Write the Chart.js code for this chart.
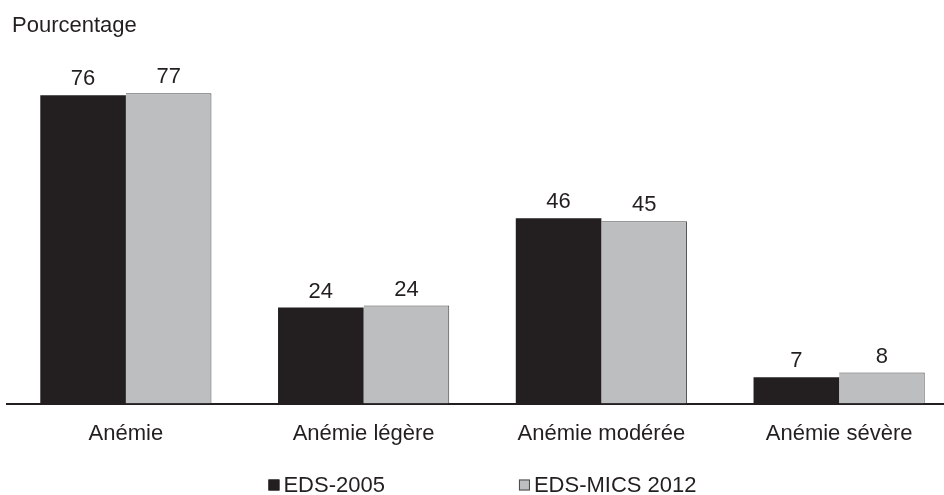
<!DOCTYPE html>
<html>
<head>
<meta charset="utf-8">
<script src="https://cdn.jsdelivr.net/npm/chart.js@4/dist/chart.umd.min.js"></script>
<style>
  html, body { margin: 0; padding: 0; background: #ffffff; overflow: hidden; }
  #wrap { position: relative; width: 960px; height: 495px; }
</style>
</head>
<body>
<div id="wrap"><canvas id="c"></canvas></div>
<script>
const categories = ["Anémie", "Anémie légère", "Anémie modérée", "Anémie sévère"];
const seriesNames = ["EDS-2005", "EDS-MICS 2012"];
const eds2005 = [76.4, 23.8, 45.9, 6.5];
const edsMics2012 = [76.9, 24.3, 45.2, 7.7];
const yAxisTitle = "Pourcentage";

const FONT = "'Liberation Sans', Arial, Helvetica, sans-serif";
const FSIZE = 22;
const INK = "#231f20";

const valueLabels = {
  id: "valueLabels",
  afterDatasetsDraw(chart) {
    const ctx = chart.ctx;
    ctx.save();
    ctx.font = FSIZE + "px " + FONT;
    ctx.fillStyle = INK;
    ctx.textAlign = "center";
    ctx.textBaseline = "alphabetic";
    chart.data.datasets.forEach((ds, i) => {
      const meta = chart.getDatasetMeta(i);
      meta.data.forEach((el, j) => {
        ctx.fillText(String(Math.round(ds.data[j])), el.x, el.y - 10);
      });
    });
    ctx.restore();
  }
};

const extras = {
  id: "extras",
  afterDraw(chart) {
    const ctx = chart.ctx;
    const area = chart.chartArea;
    ctx.save();
    ctx.font = FSIZE + "px " + FONT;
    ctx.fillStyle = INK;
    ctx.textAlign = "left";
    ctx.textBaseline = "alphabetic";
    ctx.fillText(yAxisTitle, 12, 32);

    // legend
    const box = 11, gapBox = 4, gapItems = 134;
    const widths = chart.data.datasets.map(ds => box + gapBox + ctx.measureText(ds.label).width);
    const total = widths.reduce((a, b) => a + b, 0) + gapItems * (widths.length - 1);
    let x = (area.left + area.right) / 2 - total / 2;
    const yMid = 485;
    chart.data.datasets.forEach((ds, i) => {
      ctx.fillStyle = ds.backgroundColor;
      ctx.fillRect(x, yMid - box / 2, box, box);
      ctx.strokeStyle = ds.borderColor;
      ctx.lineWidth = 1;
      ctx.strokeRect(x + 0.5, yMid - box / 2 + 0.5, box - 1, box - 1);
      ctx.fillStyle = INK;
      ctx.textBaseline = "alphabetic";
      ctx.fillText(ds.label, x + box + gapBox, yMid + 7);
      x += widths[i] + gapItems;
    });
    ctx.restore();
  }
};

new Chart(document.getElementById("c"), {
  type: "bar",
  data: {
    labels: categories,
    datasets: [
      { label: seriesNames[0], data: eds2005, backgroundColor: INK, borderColor: INK, borderWidth: 0 },
      { label: seriesNames[1], data: edsMics2012, backgroundColor: "#bdbec0", borderColor: "#4a4a4a", borderWidth: { top: 1, left: 0, right: 1, bottom: 0 } }
    ]
  },
  options: {
    responsive: true,
    maintainAspectRatio: false,
    animation: false,
    layout: { padding: { left: 7, right: 2, top: 0, bottom: 31 } },
    datasets: { bar: { categoryPercentage: 0.72, barPercentage: 1.0 } },
    plugins: { legend: { display: false }, tooltip: { enabled: false }, title: { display: false } },
    scales: {
      x: {
        grid: { display: false, drawTicks: false },
        border: { display: true, color: INK, width: 2 },
        ticks: { color: INK, font: { family: FONT, size: FSIZE }, padding: 17, maxRotation: 0 }
      },
      y: { display: false, min: 0, max: 100 }
    }
  },
  plugins: [valueLabels, extras]
});
</script>
</body>
</html>
